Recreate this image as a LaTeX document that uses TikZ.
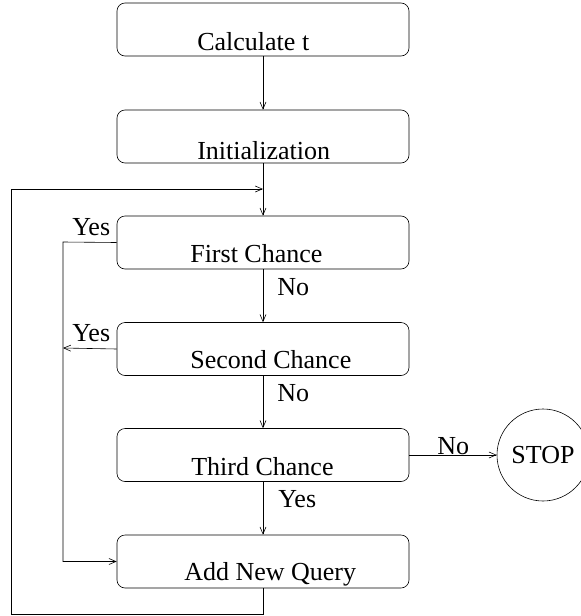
\documentclass[tikz,border=0pt]{standalone}
\usepackage{fontspec}
\setmainfont{Liberation Serif}
\usetikzlibrary{arrows.meta}
\begin{document}
\begin{tikzpicture}[x=1pt,y=-1pt,
  line width=0.6pt,
  >={Straight Barb[length=7pt,width=6pt,line width=0.6pt]},
  box/.style={draw, rounded corners=8pt, minimum width=292pt, minimum height=53pt, inner sep=0pt},
  lbl/.style={anchor=base west, inner sep=0pt, font=\fontsize{26}{30}\selectfont},
  stopc/.style={draw, circle, minimum size=92pt, inner sep=0pt, font=\fontsize{26}{30}\selectfont}]
\useasboundingbox (0,0) rectangle (581,616);
\clip (0,0) rectangle (581,616);
% boxes
\node[box] (b1) at (263,29.5) {};
\node[box] (b2) at (263,136.5) {};
\node[box] (b3) at (263,242.5) {};
\node[box] (b4) at (263,349) {};
\node[box] (b5) at (263,455) {};
\node[box] (b6) at (263,561.5) {};
\node[stopc] (stop) at (543,455) {STOP};
% box texts
\node[lbl] (t1) at (197,50) {Calculate t};
\node[lbl] (t2) at (197,159) {Initialization};
\node[lbl] (t3) at (190,262) {First Chance};
\node[lbl] (t4) at (190,368) {Second Chance};
\node[lbl] (t5) at (191,475) {Third Chance};
\node[lbl] (t6) at (184,580) {Add New Query};
% connector labels
\node[lbl] (y1) at (72,235) {Yes};
\node[lbl] (y2) at (72,341) {Yes};
\node[lbl] (n1) at (277,295) {No};
\node[lbl] (n2) at (277,401) {No};
\node[lbl] (y3) at (278,507) {Yes};
\node[lbl] (n3) at (437,454) {No};
% coordinates
\coordinate (j) at (263,189);
\coordinate (lt) at (63,242);
\coordinate (lm) at (63,348);
\coordinate (lb) at (63,561.5);
\coordinate (bl) at (263,614);
\coordinate (tl) at (11,189);
% connectors
\draw[->] (b1.south) -- (b2.north);
\draw[->] (b2.south) -- (b3.north);
\draw[->] (b3.south) -- (b4.north);
\draw[->] (b4.south) -- (b5.north);
\draw[->] (b5.south) -- (b6.north);
\draw[->] (b5.east) -- (stop.west);
\draw[->] (b6.south) -- (bl) -| (tl) -- (j);
\draw[->] (b3.west) -- (lt) -- (lb) -- (b6.west);
\draw[->] (b4.west) -- (lm);
\end{tikzpicture}
\end{document}
